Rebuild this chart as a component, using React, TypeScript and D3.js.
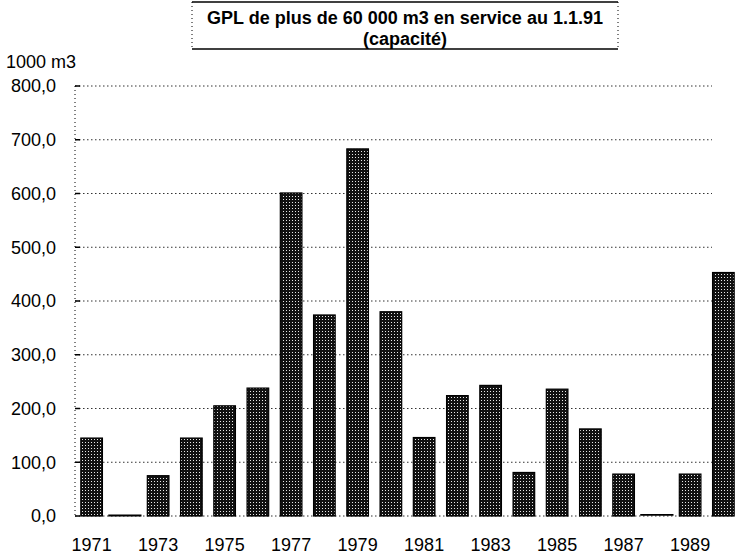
import React from "react";
import * as d3 from "d3";

// capacity of LPG carriers > 60 000 m3 in service at 1.1.91, by year built
const years = [1971, 1972, 1973, 1974, 1975, 1976, 1977, 1978, 1979, 1980,
  1981, 1982, 1983, 1984, 1985, 1986, 1987, 1988, 1989, 1990];
const capacity = [145, 0, 75, 145, 205, 238, 601, 374, 683, 380,
  146, 224, 243, 81, 236, 162, 78, 1, 78, 453];
const yTicks = [0, 100, 200, 300, 400, 500, 600, 700, 800];
const xTickYears = [1971, 1973, 1975, 1977, 1979, 1981, 1983, 1985, 1987, 1989];
const titleLines = ["GPL de plus de 60 000 m3 en service au 1.1.91", "(capacité)"];
const unitLabel = "1000 m3";

const font = "'Liberation Sans', Arial, Helvetica, sans-serif";

export default function App() {
  const width = 735;
  const height = 558;
  const left = 75;
  const gridRight = 712;

  const x = d3.scaleBand<number>()
    .domain(years)
    .range([left, 740])
    .paddingInner(0.35)
    .paddingOuter(0.175);
  const y = d3.scaleLinear().domain([0, 800]).range([516, 86]);

  const fmt = d3.formatLocale({
    decimal: ",",
    thousands: " ",
    grouping: [3],
    currency: ["", ""],
  }).format(".1f");

  const bw = x.bandwidth();
  const gap = x.step() - bw;

  return (
    <div style={{ position: "absolute", left: 0, top: 0 }}>
      <svg width={width} height={height} style={{ display: "block", background: "#fff" }}>
        <defs>
          <pattern id="dots" width="3" height="3" patternUnits="userSpaceOnUse">
            <rect width="3" height="3" fill="#111" />
            <rect x="1" y="1" width="1" height="1" fill="#e8e8e8" />
          </pattern>
        </defs>

        {/* title box */}
        <g fontFamily={font} fontWeight="bold" fontSize={18} fill="#000">
          <line x1={192} x2={618} y1={2} y2={2} stroke="#000" strokeWidth={1.5} />
          <line x1={192} x2={618} y1={49} y2={49} stroke="#000" strokeWidth={1.5} />
          <line x1={192} x2={192} y1={2} y2={49} stroke="#000" strokeDasharray="1,3" />
          <line x1={618} x2={618} y1={2} y2={49} stroke="#000" strokeDasharray="1,3" />
          {titleLines.map((t, i) => (
            <text key={t} x={405} y={23.5 + i * 21} textAnchor="middle">{t}</text>
          ))}
        </g>

        {/* gridlines */}
        <g stroke="#333" strokeWidth={1} strokeDasharray="1.5,2.5">
          {yTicks.filter((t) => t > 0).map((t) => (
            <line key={t} x1={left} x2={gridRight} y1={y(t)} y2={y(t)} />
          ))}
          <line x1={left} x2={734} y1={y(0)} y2={y(0)} />
        </g>

        {/* y axis */}
        <line x1={left} x2={left} y1={y(800)} y2={y(0)} stroke="#000" strokeDasharray="1,3" />
        <g fontFamily={font} fontSize={18} fill="#000">
          {yTicks.map((t) => (
            <g key={t}>
              <line x1={left} x2={left + 5} y1={y(t)} y2={y(t)} stroke="#000" strokeWidth={1.5} />
              <text x={56} y={y(t)} dy="0.36em" textAnchor="end">{fmt(t)}</text>
            </g>
          ))}
          <text x={6} y={68}>{unitLabel}</text>
        </g>

        {/* bars */}
        <g>
          {years.map((yr, i) => {
            const v = capacity[i];
            if (v < 5) {
              return (
                <line key={yr} x1={(x(yr) ?? 0) - gap / 2} x2={(x(yr) ?? 0) + bw + gap / 2}
                  y1={y(v) - 0.5} y2={y(v) - 0.5} stroke="#000" strokeWidth={1.8} />
              );
            }
            return (
              <rect key={yr} x={x(yr)} y={y(v)} width={bw} height={y(0) - y(v)}
                fill="url(#dots)" stroke="#000" strokeWidth={1.2} />
            );
          })}
        </g>

        {/* x labels */}
        <g fontFamily={font} fontSize={18} fill="#000">
          {xTickYears.map((yr) => (
            <text key={yr} x={(x(yr) ?? 0) + bw / 2} y={551} textAnchor="middle">{yr}</text>
          ))}
        </g>
      </svg>
    </div>
  );
}
